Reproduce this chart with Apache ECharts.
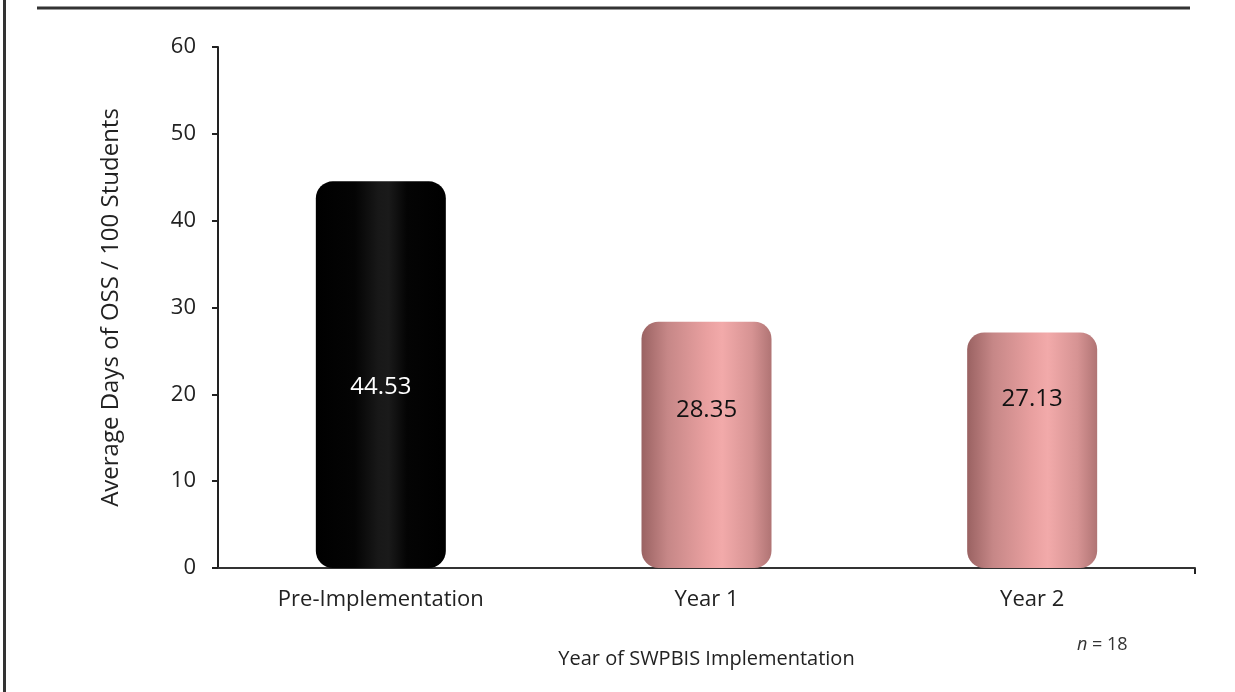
<!DOCTYPE html>
<html><head><meta charset="utf-8">
<script src="https://cdn.jsdelivr.net/npm/echarts@6/dist/echarts.min.js"></script>
<style>html,body{margin:0;padding:0;background:#fff}#c{width:1235px;height:692px}</style>
</head><body><div id="c"></div>
<script>
const categories = ['Pre-Implementation', 'Year 1', 'Year 2'];
const values = [44.53, 28.35, 27.13];
const yTicks = [0, 10, 20, 30, 40, 50, 60];
const labelOffsets = [206, 88, 67];

const FONT = 'Open Sans';
const blackFill = {type:'linear',x:0,y:0,x2:1,y2:0,colorStops:[
  {offset:0,color:'#000'},{offset:0.3,color:'#040404'},{offset:0.48,color:'#181818'},{offset:0.56,color:'#1a1a1a'},{offset:0.7,color:'#040404'},{offset:1,color:'#000'}]};
const pinkFill = {type:'linear',x:0,y:0,x2:1,y2:0,colorStops:[
  {offset:0,color:'#9a6262'},{offset:0.2,color:'#c68787'},{offset:0.5,color:'#e9a0a0'},{offset:0.62,color:'#f2aaaa'},{offset:0.85,color:'#d69393'},{offset:1,color:'#b07474'}]};

const data = values.map((v, i) => ({
  value: v,
  itemStyle: {color: i === 0 ? blackFill : pinkFill, borderRadius: 17},
  label: {show: true, position: 'insideTop', distance: labelOffsets[i] - 12,
    color: i === 0 ? '#ffffff' : '#111111', fontSize: 24, fontFamily: FONT,
    formatter: p => p.value.toFixed(2)}
}));

const chart = echarts.init(document.getElementById('c'));
chart.setOption({
  animation: false,
  grid: {left: 218, right: 40, top: 47, bottom: 124},
  xAxis: {
    type: 'category', data: categories,
    axisLine: {lineStyle: {color: '#333', width: 2}},
    axisTick: {alignWithLabel: true, length: 5, lineStyle: {color: '#222', width: 2}},
    axisLabel: {color: '#222', fontSize: 22, fontFamily: FONT, margin: 21},
    name: 'Year of SWPBIS Implementation', nameLocation: 'middle', nameGap: 80,
    nameTextStyle: {color: '#222', fontSize: 20, fontFamily: FONT, lineHeight: 22}
  },
  yAxis: {
    type: 'value', min: yTicks[0], max: yTicks[yTicks.length-1], interval: 10,
    axisLine: {show: true, lineStyle: {color: '#222', width: 2}},
    axisTick: {show: true, length: 6, lineStyle: {color: '#222', width: 2}},
    splitLine: {show: false},
    axisLabel: {color: '#222', fontSize: 22, fontFamily: FONT, margin: 22},
    name: 'Average Days of OSS / 100 Students', nameLocation: 'middle', nameGap: 95,
    nameTextStyle: {color: '#222', fontSize: 24, fontFamily: FONT}
  },
  series: [{type: 'bar', data: data, barWidth: 130}],
  graphic: [
    {type: 'line', shape: {x1: 37, y1: 8, x2: 1190, y2: 8}, style: {stroke: '#333', lineWidth: 3}},
    {type: 'line', shape: {x1: 4.5, y1: 0, x2: 4.5, y2: 692}, style: {stroke: '#333', lineWidth: 3}},
    {type: 'line', shape: {x1: 1195, y1: 568, x2: 1195, y2: 574}, style: {stroke: '#222', lineWidth: 2}},
    {type: 'text', left: 1077, top: 636, style: {rich: {i: {fontStyle: 'italic', fontSize: 18, fontFamily: FONT, fill: '#333'}, n: {fontSize: 18, fontFamily: FONT, fill: '#333'}}, text: '{i|n}{n| = 18}'}}
  ]
});
</script></body></html>
